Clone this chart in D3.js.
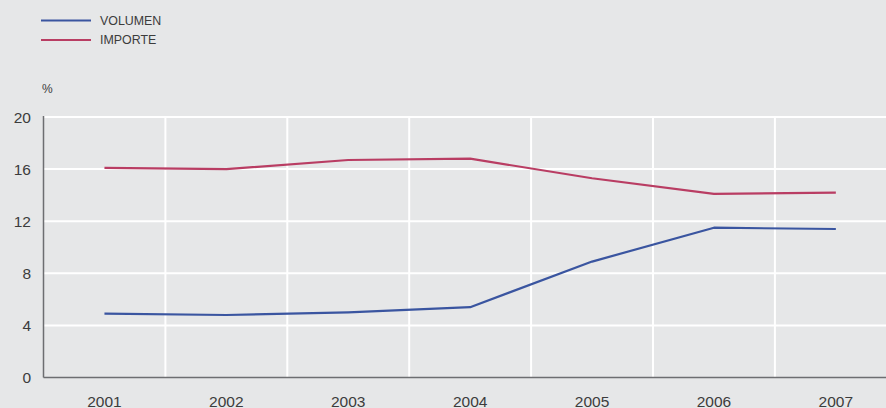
<!DOCTYPE html>
<html>
<head>
<meta charset="utf-8">
<script src="https://cdn.jsdelivr.net/npm/d3@7"></script>
<style>
  html, body { margin: 0; padding: 0; background: #e6e7e8; }
  svg { display: block; }
</style>
</head>
<body>
<svg id="chart" width="886" height="408"></svg>
<script>
const years = ["2001", "2002", "2003", "2004", "2005", "2006", "2007"];
const volumen = [4.9, 4.8, 5.0, 5.4, 8.9, 11.5, 11.4];
const importe = [16.1, 16.0, 16.7, 16.8, 15.3, 14.1, 14.2];
const yTicks = [0, 4, 8, 12, 16, 20];
const seriesNames = ["VOLUMEN", "IMPORTE"];
const seriesColors = ["#3a55a0", "#b93d63"];

const W = 886, H = 408;
const svg = d3.select("#chart");
svg.append("rect").attr("width", W).attr("height", H).attr("fill", "#e6e7e8");

const left = 43.5, bandW = 121.9;
const x = d3.scaleBand().domain(years).range([left, left + bandW * years.length]).padding(0);
const y = d3.scaleLinear().domain([0, 20]).range([377.5, 117]);

const font = "'Liberation Sans', Arial, Helvetica, sans-serif";

// horizontal gridlines
svg.append("g").selectAll("line").data(yTicks.filter(d => d > 0)).join("line")
  .attr("x1", left).attr("x2", W)
  .attr("y1", d => y(d)).attr("y2", d => y(d))
  .attr("stroke", "#ffffff").attr("stroke-width", 2);

// vertical gridlines at band boundaries
svg.append("g").selectAll("line").data(years.slice(1)).join("line")
  .attr("x1", d => x(d)).attr("x2", d => x(d))
  .attr("y1", y(20)).attr("y2", y(0))
  .attr("stroke", "#ffffff").attr("stroke-width", 2);

// axes lines
svg.append("line").attr("x1", left).attr("x2", left).attr("y1", y(20) - 1).attr("y2", y(0))
  .attr("stroke", "#6d6e71").attr("stroke-width", 1.5);
svg.append("line").attr("x1", left).attr("x2", W).attr("y1", y(0)).attr("y2", y(0))
  .attr("stroke", "#6d6e71").attr("stroke-width", 1.5);

// y tick labels
svg.append("g").selectAll("text").data(yTicks).join("text")
  .attr("x", 31).attr("y", d => y(d)).attr("dy", "0.36em")
  .attr("text-anchor", "end").attr("font-family", font).attr("font-size", 15.5)
  .attr("fill", "#3c3c3c").text(d => d);

// x tick labels
svg.append("g").selectAll("text").data(years).join("text")
  .attr("x", d => x(d) + x.bandwidth() / 2).attr("y", 407)
  .attr("text-anchor", "middle").attr("font-family", font).attr("font-size", 15.5)
  .attr("fill", "#3c3c3c").text(d => d);

// unit label
svg.append("text").attr("x", 42).attr("y", 93).attr("font-family", font)
  .attr("font-size", 12).attr("fill", "#3c3c3c").text("%");

// lines
const line = d3.line().x((d, i) => x(years[i]) + x.bandwidth() / 2).y(d => y(d));
[volumen, importe].forEach((s, i) => {
  svg.append("path").datum(s).attr("d", line).attr("fill", "none")
    .attr("stroke", seriesColors[i]).attr("stroke-width", 2.2)
    .attr("stroke-linejoin", "round");
});

// legend
const leg = svg.append("g");
seriesNames.forEach((n, i) => {
  const ly = 20.5 + i * 19.5;
  leg.append("line").attr("x1", 41).attr("x2", 91).attr("y1", ly).attr("y2", ly)
    .attr("stroke", seriesColors[i]).attr("stroke-width", 2.2);
  leg.append("text").attr("x", 100).attr("y", ly).attr("dy", "0.36em")
    .attr("font-family", font).attr("font-size", 12.4).attr("fill", "#3c3c3c").text(n);
});
</script>
</body>
</html>
